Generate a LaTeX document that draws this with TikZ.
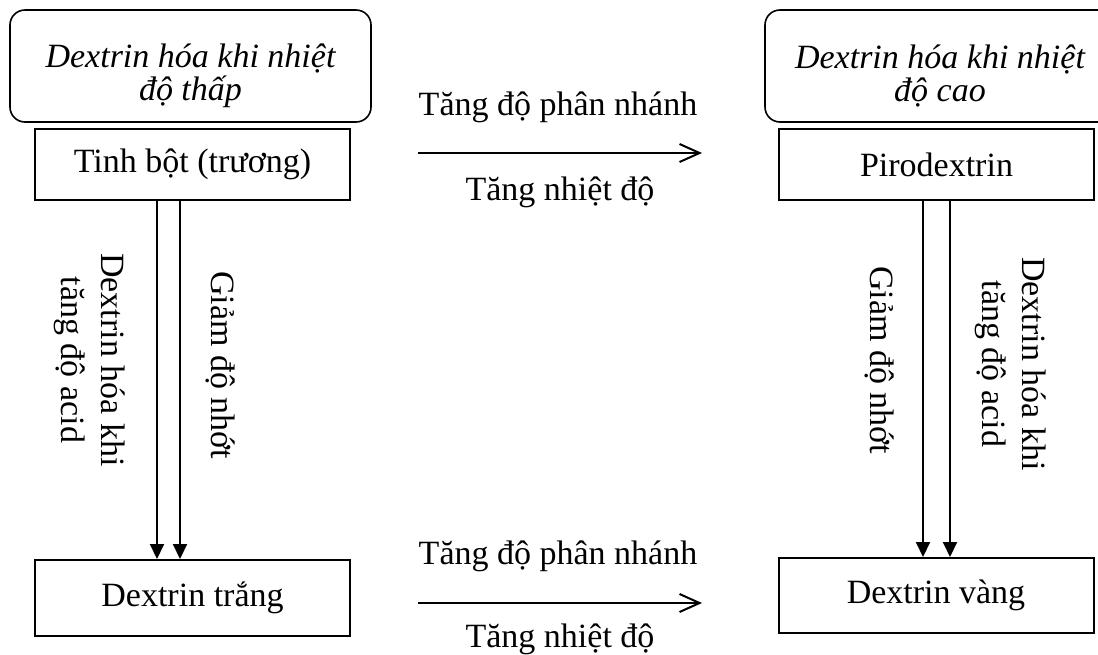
\documentclass[tikz,border=0pt]{standalone}
\usepackage{fontspec}
\setmainfont{Liberation Serif}
\usetikzlibrary{arrows.meta}

\begin{document}
\begin{tikzpicture}[x=0.5pt,y=-0.5pt,
	hop/.style={draw,line width=1pt,minimum width=157.5pt,minimum height=35.5pt,inner sep=0pt,font=\fontsize{17}{20}\selectfont},
	khung/.style={draw,line width=0.8pt,rounded corners=7.5pt,minimum width=180.5pt,minimum height=56pt,inner sep=0pt,align=center,font=\fontsize{17}{16.5}\itshape},
	nhan/.style={rotate=-90,align=center,inner sep=0pt,font=\fontsize{17}{20}\selectfont},
	chu/.style={anchor=base,inner sep=0pt,font=\fontsize{17}{20}\selectfont},
	xuong/.style={-{Triangle[length=7.5pt,width=7pt]},line width=1pt},
	ngang/.style={-{Straight Barb[length=10pt,width=9pt]},line width=1pt}]
		\path[use as bounding box,clip] (0,0) rectangle (1098,654);
		\node[khung] (thap) at (190.5,66) {\rule{0pt}{22pt}Dextrin hóa khi nhiệt\\độ thấp};
		\node[khung,minimum width=175pt] (cao) at (940,66) {\rule{0pt}{22pt}Dextrin hóa khi nhiệt\\độ cao};
		\node[hop] (tinhbot) at (192.5,164.5) {Tinh bột (trương)};
		\node[hop] (pirodextrin) at (936.5,164.5) {Pirodextrin};
		\node[hop,minimum height=38pt] (dextrintrang) at (192.5,598) {Dextrin trắng};
		\node[hop,minimum height=37.5pt] (dextrinvang) at (936,595.5) {Dextrin vàng};
		\draw[xuong] (tinhbot.south -| 157,0) -- (dextrintrang.north -| 157,0);
		\draw[xuong] (tinhbot.south -| 180,0) -- (dextrintrang.north -| 180,0);
		\draw[xuong] (pirodextrin.south -| 923,0) -- (dextrinvang.north -| 923,0);
		\draw[xuong] (pirodextrin.south -| 950,0) -- (dextrinvang.north -| 950,0);
		\node[nhan] (axit1) at (90,360) {Dextrin hóa khi\\tăng độ acid};
		\node[nhan] (nhot1) at (221,365) {Giảm độ nhớt};
		\node[nhan] (nhot2) at (880,360) {Giảm độ nhớt};
		\node[nhan] (axit2) at (1011,364) {Dextrin hóa khi\\tăng độ acid};
		\coordinate (tren1) at (418,153);
		\coordinate (tren2) at (702,153);
		\draw[ngang] (tren1) -- (tren2);
		\node[chu] (phannhanh1) at (558,115) {Tăng độ phân nhánh};
		\node[chu] (nhietdo1) at (560,200) {Tăng nhiệt độ};
		\coordinate (duoi1) at (418,603);
		\coordinate (duoi2) at (702,603);
		\draw[ngang] (duoi1) -- (duoi2);
		\node[chu] (phannhanh2) at (558,564) {Tăng độ phân nhánh};
		\node[chu] (nhietdo2) at (560,647) {Tăng nhiệt độ};
	\end{tikzpicture}
\end{document}
